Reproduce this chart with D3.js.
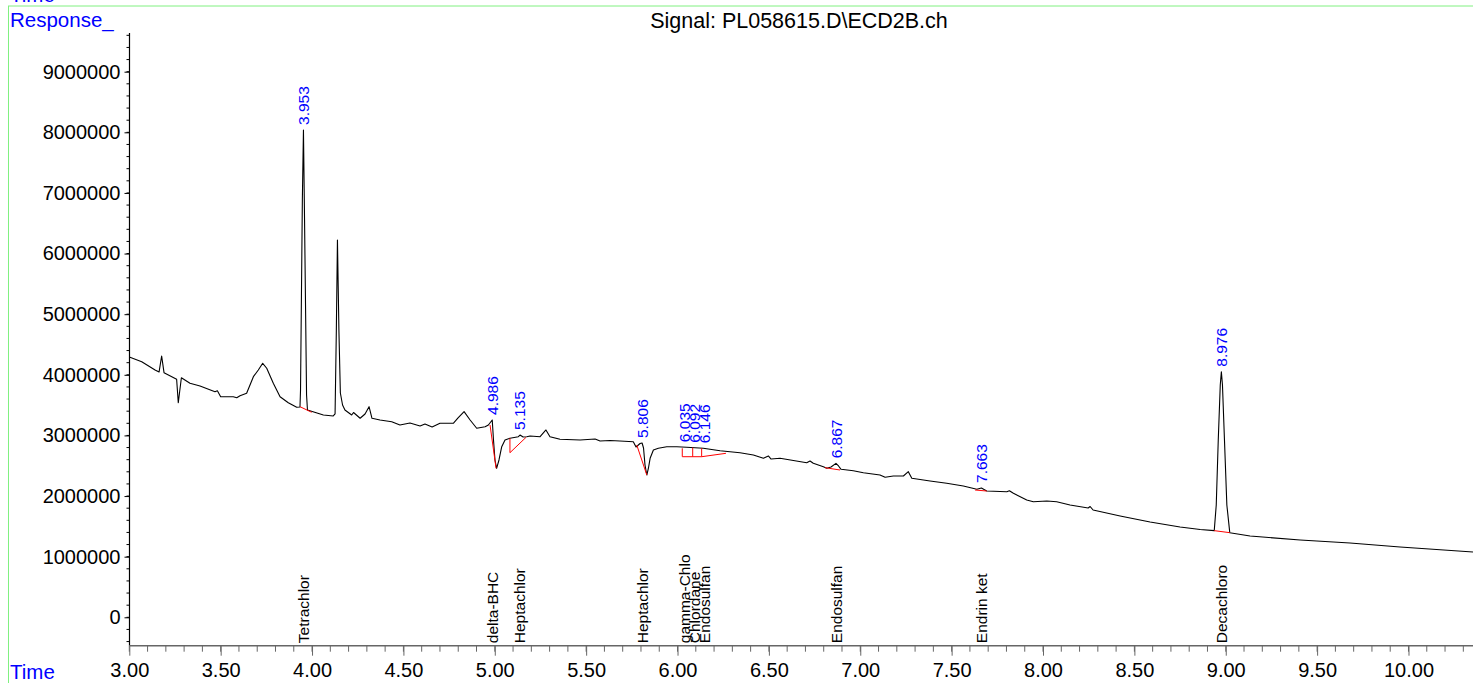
<!DOCTYPE html>
<html><head><meta charset="utf-8">
<script src="https://cdn.jsdelivr.net/npm/d3@7"></script>
<style>
html,body{margin:0;padding:0;background:#fff;}
svg{display:block;font-family:"Liberation Sans",Arial,sans-serif;}
</style></head>
<body>
<svg id="c" width="1473" height="683"></svg>
<script>
// ---- data ----
const traceTime = [3.000,3.068,3.141,3.163,3.177,3.190,3.259,3.268,3.285,3.332,3.387,3.469,3.482,3.500,3.569,3.588,3.606,3.642,3.679,3.706,3.730,3.752,3.788,3.825,3.870,3.916,3.934,3.937,3.947,3.953,3.959,3.970,3.975,4.062,4.116,4.126,4.133,4.139,4.147,4.155,4.167,4.180,4.217,4.227,4.263,4.290,4.312,4.328,4.372,4.436,4.481,4.536,4.591,4.618,4.657,4.700,4.773,4.799,4.832,4.865,4.901,4.947,4.965,4.986,4.993,5.001,5.010,5.023,5.038,5.056,5.083,5.129,5.138,5.155,5.175,5.193,5.248,5.280,5.302,5.357,5.467,5.549,5.576,5.631,5.685,5.758,5.773,5.795,5.806,5.814,5.822,5.832,5.841,5.850,5.868,5.895,5.941,5.996,6.050,6.141,6.233,6.342,6.415,6.470,6.497,6.512,6.561,6.707,6.725,6.743,6.798,6.817,6.840,6.867,6.881,6.895,6.962,7.017,7.108,7.136,7.181,7.236,7.263,7.282,7.382,7.473,7.564,7.638,7.663,7.692,7.802,7.816,7.838,7.911,7.947,8.021,8.075,8.148,8.247,8.258,8.274,8.422,8.586,8.750,8.860,8.937,8.948,8.959,8.970,8.976,8.982,8.993,9.006,9.022,9.133,9.407,9.680,9.954,10.353];
const traceResp = [4294000,4216000,4079000,4047000,4310000,4035000,3926000,3540000,3952000,3860000,3816000,3722000,3738000,3639000,3639000,3623000,3656000,3695000,3969000,4079000,4190000,4108000,3860000,3639000,3540000,3464000,3469000,3750000,6884000,8039000,6554000,3667000,3420000,3337000,3321000,3354000,4739000,6224000,4739000,3700000,3502000,3420000,3337000,3378000,3283000,3354000,3474000,3283000,3255000,3227000,3172000,3205000,3156000,3189000,3139000,3200000,3200000,3288000,3392000,3255000,3118000,3144000,3172000,3255000,2925000,2595000,2458000,2595000,2814000,2925000,2953000,2979000,3007000,2974000,2979000,2991000,2979000,3090000,2979000,2936000,2925000,2941000,2908000,2917000,2908000,2897000,2809000,2867000,2875000,2793000,2512000,2347000,2463000,2623000,2760000,2788000,2814000,2814000,2804000,2788000,2748000,2715000,2677000,2623000,2661000,2611000,2623000,2550000,2578000,2540000,2484000,2458000,2479000,2540000,2496000,2441000,2418000,2385000,2347000,2309000,2331000,2331000,2402000,2293000,2248000,2210000,2166000,2111000,2133000,2083000,2072000,2088000,2046000,1935000,1907000,1918000,1907000,1853000,1803000,1828000,1770000,1671000,1572000,1490000,1448000,1429000,1853000,2925000,3832000,4051000,3832000,2925000,1853000,1396000,1341000,1275000,1226000,1160000,1077000];

const peakTimes  = [3.953, 4.986, 5.135, 5.806, 6.035, 6.092, 6.146, 6.867, 7.663, 8.976];
const peakLabels = ["3.953","4.986","5.135","5.806","6.035","6.092","6.146","6.867","7.663","8.976"];
const compoundNames = ["Tetrachlor","delta-BHC","Heptachlor","Heptachlor","gamma-Chlo","Chlordane","Endosulfan","Endosulfan","Endrin ket","Decachloro"];

// integration baselines: [t1, v1, t2, v2]
const baselineSegs = [
  [3.934,3474000,3.998,3382000],
  [4.974,3172000,5.007,2458000],
  [5.083,2953000,5.083,2715000],[5.083,2715000,5.171,2969000],
  [5.777,2842000,5.832,2347000],
  [6.026,2788000,6.026,2649000],[6.026,2649000,6.132,2649000],[6.132,2649000,6.265,2705000],
  [6.083,2800000,6.083,2649000],[6.132,2790000,6.132,2649000],
  [6.807,2468000,6.889,2430000],
  [7.628,2100000,7.692,2083000],
  [8.937,1429000,9.022,1396000]
];

const xMajorTicks = [3.0,3.5,4.0,4.5,5.0,5.5,6.0,6.5,7.0,7.5,8.0,8.5,9.0,9.5,10.0];
const yMajorTicks = [0,1000000,2000000,3000000,4000000,5000000,6000000,7000000,8000000,9000000];
const titleText = "Signal: PL058615.D\\ECD2B.ch";

// ---- drawing ----
const svg = d3.select("#c");
const W = 1473, H = 683;
const x = d3.scaleLinear().domain([3, 10.353]).range([129.3, 1473]);
const y = d3.scaleLinear().domain([0, 9000000]).range([617.3, 71.7]);
const axisY = 645.7, axisTop = 33;

// green frame
svg.append("line").attr("x1",8).attr("x2",W).attr("y1",6).attr("y2",6).attr("stroke","#80f080").attr("stroke-width",1);
svg.append("line").attr("x1",8.5).attr("x2",8.5).attr("y1",6).attr("y2",H).attr("stroke","#80f080").attr("stroke-width",1);

// header texts
svg.append("text").attr("x",10).attr("y",2).attr("fill","#0000ff").attr("font-size",20.5).text("Time");
svg.append("text").attr("x",10).attr("y",26.5).attr("fill","#0000ff").attr("font-size",20.5).text("Response_");
svg.append("text").attr("x",10).attr("y",679).attr("fill","#0000ff").attr("font-size",20.5).text("Time");
svg.append("text").attr("x",799).attr("y",28).attr("text-anchor","middle").attr("fill","#000").attr("font-size",21.5).text(titleText);

// y axis
const yMinor = d3.range(-400000, 9600001, 200000).filter(v => y(v) >= axisTop && y(v) <= axisY);
const yAxis = d3.axisLeft(y).tickValues(yMajorTicks).tickSize(5).tickPadding(4).tickFormat(d3.format("d"));
const gy = svg.append("g").attr("transform","translate(129.5,0)");
gy.call(yAxis);
gy.select(".domain").remove();
gy.selectAll(".tick text").attr("font-size",20).attr("font-family","Liberation Sans, Arial, sans-serif").attr("fill","#000");
gy.selectAll(".tick line").attr("stroke","#000");
gy.selectAll(".minor").data(yMinor).enter().append("line").attr("class","minor")
  .attr("x1",-3).attr("x2",0).attr("y1",d=>y(d)).attr("y2",d=>y(d)).attr("stroke","#000");
gy.append("line").attr("x1",0).attr("x2",0).attr("y1",axisTop).attr("y2",axisY).attr("stroke","#000").attr("stroke-width",1.2);

// x axis
const xMinor = d3.range(3.0, 10.36, 0.1).map(v=>+v.toFixed(2));
const gx = svg.append("g").attr("transform",`translate(0,${axisY})`);
gx.append("line").attr("x1",129.3).attr("x2",W).attr("y1",0).attr("y2",0).attr("stroke","#666").attr("stroke-width",1.5);
gx.selectAll(".mn").data(xMinor).enter().append("line")
  .attr("x1",d=>x(d)).attr("x2",d=>x(d)).attr("y1",0).attr("y2",6).attr("stroke","#666");
const xAxis = d3.axisBottom(x).tickValues(xMajorTicks).tickSize(10).tickPadding(7).tickFormat(d3.format(".2f"));
const gx2 = svg.append("g").attr("transform",`translate(0,${axisY})`).call(xAxis);
gx2.select(".domain").remove();
gx2.selectAll(".tick line").attr("stroke","#666");
gx2.selectAll(".tick text").attr("font-size",20).attr("font-family","Liberation Sans, Arial, sans-serif").attr("fill","#000");

// trace
const pts = traceTime.map((t,i)=>[t, traceResp[i]]);
svg.append("path").datum(pts)
  .attr("d", d3.line().x(d=>x(d[0])).y(d=>y(d[1])))
  .attr("fill","none").attr("stroke","#000").attr("stroke-width",1.1).attr("stroke-linejoin","round");

// baselines
svg.selectAll(".bl").data(baselineSegs).enter().append("line")
  .attr("x1",d=>x(d[0])).attr("y1",d=>y(d[1])).attr("x2",d=>x(d[2])).attr("y2",d=>y(d[3]))
  .attr("stroke","#ff0000").attr("stroke-width",1);

// peak labels
const bis = d3.bisector(d=>d[0]).left;
function interp(t){
  const i = Math.max(1, Math.min(pts.length-1, bis(pts, t)));
  const a = pts[i-1], b = pts[i];
  return a[1] + (b[1]-a[1]) * (t-a[0]) / (b[0]-a[0]);
}
function apex(t){
  let best = interp(t);
  pts.forEach(p=>{ if (Math.abs(p[0]-t) <= 0.012 && p[1] > best) best = p[1]; });
  return best;
}
peakTimes.forEach((t,i)=>{
  const px = x(t), py = y(apex(t)) - 5;
  svg.append("text").attr("transform",`translate(${px},${py}) rotate(-90)`)
    .attr("dy","0.36em").attr("fill","#0000ff").attr("font-size",15.5).text(peakLabels[i]);
  svg.append("text").attr("transform",`translate(${px},${axisY-2.5}) rotate(-90)`)
    .attr("dy","0.36em").attr("fill","#000").attr("font-size",15.5).text(compoundNames[i]);
});
</script>
</body></html>
